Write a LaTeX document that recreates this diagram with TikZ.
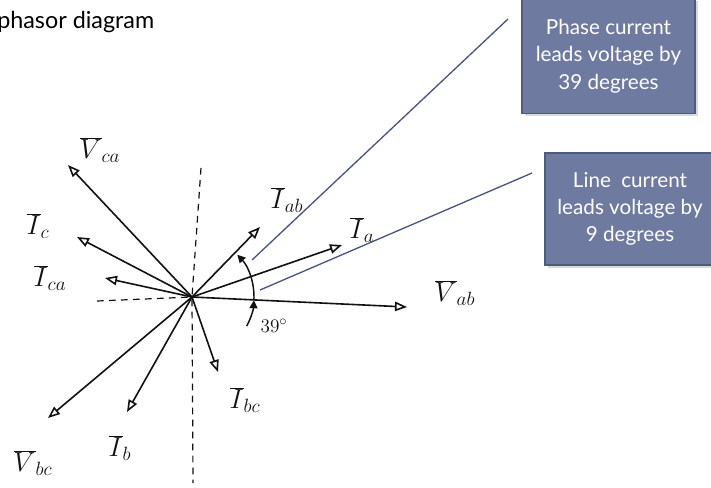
\documentclass[tikz,border=0pt]{standalone}
\usepackage{fontspec}
\setmainfont{Lato}
\usepackage{tikz}
\usetikzlibrary{arrows.meta,calc,shadows}
\definecolor{boxfill}{HTML}{6E7AA0}
\definecolor{boxline}{HTML}{4F5A82}
\definecolor{lead}{HTML}{4A5581}
\definecolor{ink}{HTML}{111111}

\begin{document}
\begin{tikzpicture}[x=0.75pt,y=0.75pt,
    phasor/.style={ink,line width=1.2pt,-{Triangle[open,length=9pt,width=7pt]}},
    dashref/.style={ink,line width=0.9pt,dash pattern=on 5pt off 4pt},
    lbl/.style={ink,font=\fontsize{21}{25}\selectfont},
    callbox/.style={fill=boxfill,draw=boxline,line width=0.8pt,text=white,align=center,
      font=\fontsize{15.5}{20.5}\selectfont,
      drop shadow={shadow xshift=2pt,shadow yshift=-2pt,opacity=0.3}},
    leadline/.style={lead,line width=1pt}]
  \useasboundingbox (0,0) rectangle (711,-487);
  % title
  \node[anchor=base west,font=\fontsize{17.5}{21}\selectfont,inner sep=0pt] (title) at (-3,-28) {phasor diagram};
  % reference axes
  \coordinate (O) at (192,-297);
  \coordinate (dtop) at (201,-168);
  \coordinate (dbot) at (193,-483);
  \coordinate (dleft) at (97,-301);
  \draw[dashref] (dtop) -- (O) -- (dbot);
  \draw[dashref] (dleft) -- (O);
  % phasor tips
  \foreach \n/\x/\y in {Vab/407/307,Ia/342/245,Iab/260/227,Vca/68/165,Ic/77/237,
                        Ica/105/278,Vbc/48/418,Ib/127/412,Ibc/218/372}
    \coordinate (\n) at (\x,-\y);
  \foreach \n in {Vab,Ia,Iab,Vca,Ic,Ica,Vbc,Ib,Ibc}
    \draw[phasor] (O) -- (\n);
  % labels
  \node[lbl] (lVab) at (455,-293) {$\overline{V}_{ab}$};
  \node[lbl] (lIa) at (362,-230) {$\overline{I}_{a}$};
  \node[lbl] (lIab) at (287,-200) {$\overline{I}_{ab}$};
  \node[lbl] (lVca) at (100,-150) {$\overline{V}_{ca}$};
  \node[lbl] (lIc) at (38,-226) {$\overline{I}_{c}$};
  \node[lbl] (lIca) at (50,-278) {$\overline{I}_{ca}$};
  \node[lbl] (lIbc) at (245,-400) {$\overline{I}_{bc}$};
  \node[lbl] (lIb) at (120,-448) {$\overline{I}_{b}$};
  \node[lbl] (lVbc) at (33,-463) {$\overline{V}_{bc}$};
  % angle between Vab and Iab
  \draw[ink,line width=1.1pt,-{Triangle[length=6pt,width=6pt]}] ($(O)+(-28:62)$) arc[start angle=-28,end angle=-3,radius=62];
  \draw[ink,line width=1.1pt,-{Triangle[length=6pt,width=6pt]}] ($(O)+(-3:62)$) arc[start angle=-3,end angle=43,radius=62];
  \node[ink,font=\fontsize{15}{18}\selectfont] (ang) at (274,-326) {$39^\circ$};
  % callouts
  \node[callbox,minimum width=129.75pt,minimum height=86pt] (phase) at (608.5,-56)
    {Phase current\\leads voltage by\\39 degrees};
  \node[callbox,minimum width=127.5pt,minimum height=84pt] (line) at (630,-209)
    {Line\enspace current\\leads voltage by\\9 degrees};
  \coordinate (ph1) at (508,-19);
  \coordinate (ph2) at (252,-260);
  \coordinate (ln1) at (532,-173);
  \coordinate (ln2) at (260,-290);
  \draw[leadline] (ph1) -- (ph2);
  \draw[leadline] (ln1) -- (ln2);
\end{tikzpicture}
\end{document}
